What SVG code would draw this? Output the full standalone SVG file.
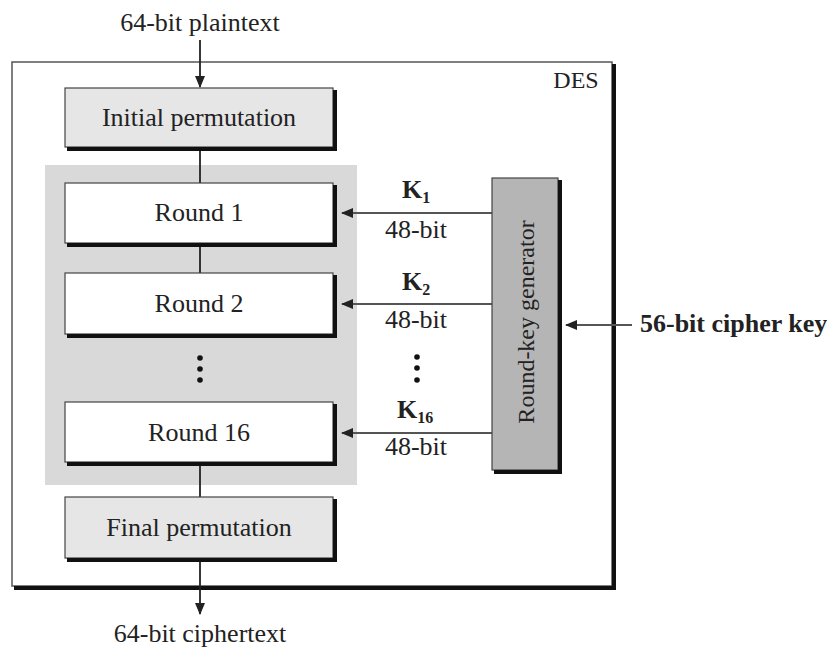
<svg xmlns="http://www.w3.org/2000/svg" width="827" height="648" viewBox="0 0 827 648">
<style>
text{font-family:"Liberation Serif","Times New Roman",serif;fill:#222}
.lbl{font-size:26px}
.b{font-weight:bold}
.box{stroke:#444;stroke-width:1.2}
.sh{fill:none;stroke:#111;stroke-width:4}
.ln{stroke:#222;stroke-width:1.8;fill:none}
.kl{stroke:#555;stroke-width:2;fill:none}
</style>
<defs>
<marker id="ah" markerWidth="12" markerHeight="10" refX="11" refY="5" orient="auto" markerUnits="userSpaceOnUse">
<path d="M0,0 L12,5 L0,10 Z" fill="#222"/>
</marker>
</defs>
<rect width="827" height="648" fill="#fff"/>
<g id="des">
<rect x="12" y="62" width="600" height="524" fill="#fff" stroke="#555" stroke-width="1.5"/>
<path class="sh" d="M614,64 L614,588 L14,588"/>
<text x="576" y="88" font-size="24" text-anchor="middle">DES</text>
</g>
<g id="shade">
<rect x="45" y="165" width="312" height="320" fill="#d9d9d9"/>
</g>
<g id="connectors">
<line class="ln" x1="200" y1="40" x2="200" y2="87" marker-end="url(#ah)"/>
<line class="ln" x1="200" y1="147" x2="200" y2="183"/>
<line class="ln" x1="200" y1="243" x2="200" y2="273"/>
<line class="ln" x1="200" y1="462" x2="200" y2="497"/>
<line class="ln" x1="200" y1="558" x2="200" y2="614" marker-end="url(#ah)"/>
<line class="kl" x1="492" y1="213" x2="342" y2="213" marker-end="url(#ah)"/>
<line class="kl" x1="492" y1="304" x2="342" y2="304" marker-end="url(#ah)"/>
<line class="kl" x1="492" y1="433" x2="342" y2="433" marker-end="url(#ah)"/>
<line class="kl" x1="632" y1="325" x2="566" y2="325" marker-end="url(#ah)"/>
<g fill="#111">
<circle cx="200" cy="358" r="2.8"/><circle cx="200" cy="369" r="2.8"/><circle cx="200" cy="380" r="2.8"/>
<circle cx="417" cy="357" r="2.8"/><circle cx="417" cy="368" r="2.8"/><circle cx="417" cy="380" r="2.8"/>
</g>
</g>
<g id="plaintext"><text class="lbl" x="200" y="31" text-anchor="middle">64-bit plaintext</text></g>
<g id="ciphertext"><text class="lbl" x="200" y="642" text-anchor="middle">64-bit ciphertext</text></g>
<g id="initial">
<rect class="box" x="65" y="88" width="268" height="59" fill="#e6e6e6"/>
<path class="sh" d="M335,90 L335,149 L67,149"/>
<text class="lbl" x="199" y="126" text-anchor="middle">Initial permutation</text>
</g>
<g id="round1">
<rect class="box" x="65" y="183" width="268" height="60" fill="#fff"/>
<path class="sh" d="M335,185 L335,245 L67,245"/>
<text class="lbl" x="199" y="221" text-anchor="middle">Round 1</text>
</g>
<g id="round2">
<rect class="box" x="65" y="273" width="268" height="61" fill="#fff"/>
<path class="sh" d="M335,275 L335,336 L67,336"/>
<text class="lbl" x="199" y="312" text-anchor="middle">Round 2</text>
</g>
<g id="round16">
<rect class="box" x="65" y="402" width="268" height="60" fill="#fff"/>
<path class="sh" d="M335,404 L335,464 L67,464"/>
<text class="lbl" x="199" y="441" text-anchor="middle">Round 16</text>
</g>
<g id="final">
<rect class="box" x="65" y="497" width="268" height="61" fill="#e6e6e6"/>
<path class="sh" d="M335,499 L335,560 L67,560"/>
<text class="lbl" x="199" y="536" text-anchor="middle">Final permutation</text>
</g>
<g id="keygen">
<rect class="box" x="492" y="178" width="66" height="292" fill="#b5b5b5"/>
<path class="sh" d="M560,180 L560,472 L494,472"/>
<text x="0" y="0" font-size="24" text-anchor="middle" transform="translate(534,322) rotate(-90)">Round-key generator</text>
</g>
<g id="klabels">
<text class="lbl b" x="402" y="198">K<tspan font-size="16" dy="5">1</tspan></text>
<text class="lbl" x="416" y="238" text-anchor="middle">48-bit</text>
<text class="lbl b" x="402" y="290">K<tspan font-size="16" dy="5">2</tspan></text>
<text class="lbl" x="416" y="328" text-anchor="middle">48-bit</text>
<text class="lbl b" x="397" y="418">K<tspan font-size="16" dy="5">16</tspan></text>
<text class="lbl" x="416" y="455" text-anchor="middle">48-bit</text>
</g>
<g id="cipherkey"><text class="lbl b" x="640" y="332">56-bit cipher key</text></g>
</svg>
